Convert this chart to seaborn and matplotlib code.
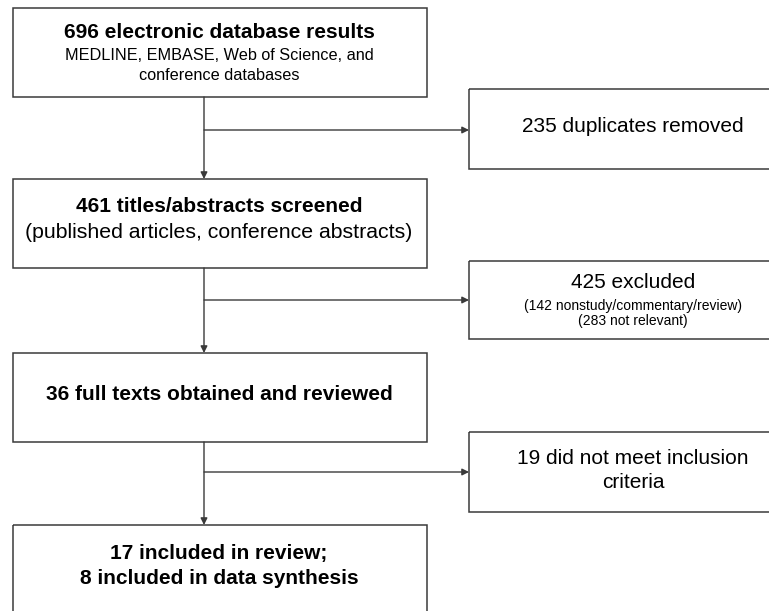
import seaborn as sns
import matplotlib.pyplot as plt
from matplotlib.patches import Rectangle

# flow counts
stage_counts = [696, 461, 36, 17]
stage_labels = ["electronic database results", "titles/abstracts screened",
                "full texts obtained and reviewed", "included in review;"]
stage_notes = ["MEDLINE, EMBASE, Web of Science, and\nconference databases",
               "(published articles, conference abstracts)", "", ""]
synthesis_count = 8
excluded_counts = [235, 425, 19]
excluded_labels = ["duplicates removed", "excluded", "did not meet inclusion\ncriteria"]
reason_counts = [142, 283]
reason_labels = ["nonstudy/commentary/review", "not relevant"]

# layout in pixels (y downwards)
left_x = (13, 427)
left_y = [(8, 97), (179, 268), (353, 442), (525, 625)]
right_x = (469, 797)
right_y = [(89, 169), (261, 339), (432, 512)]
branch_y = [130, 300, 472]
trunk_x = 204
line_col = "#3a3a3a"

sns.set_style("white")
plt.rcParams["font.family"] = ["Liberation Sans", "DejaVu Sans"]
plt.rcParams["text.color"] = "black"

fig = plt.figure(figsize=(7.69, 6.11), dpi=100)
ax = fig.add_axes([0, 0, 1, 1])
ax.set_xlim(0, 769)
ax.set_ylim(611, 0)
ax.axis("off")


def box(x, y):
    ax.add_patch(Rectangle((x[0], y[0]), x[1] - x[0], y[1] - y[0],
                           fill=False, edgecolor=line_col, lw=1.1))


def arrow(x0, y0, x1, y1):
    ax.annotate("", xy=(x1, y1), xytext=(x0, y0),
                arrowprops=dict(arrowstyle="-|>", color=line_col, lw=1.0,
                                mutation_scale=10, shrinkA=0, shrinkB=0))


for y in left_y:
    box(left_x, y)
for y in right_y:
    box(right_x, y)

# trunk arrows and side branches
for i in range(3):
    arrow(trunk_x, left_y[i][1], trunk_x, left_y[i + 1][0])
    arrow(trunk_x, branch_y[i], right_x[0], branch_y[i])

cx = 219
# main boxes
ax.text(cx, 32, f"{stage_counts[0]} {stage_labels[0]}", ha="center", va="center",
        fontsize=15, fontweight="bold")
ax.text(cx, 65.5, stage_notes[0], ha="center", va="center", fontsize=11.7, linespacing=1.45)
ax.text(cx, 207, f"{stage_counts[1]} {stage_labels[1]}", ha="center", va="center",
        fontsize=15, fontweight="bold")
ax.text(cx, 233, stage_notes[1], ha="center", va="center", fontsize=15.3)
ax.text(cx, 395, f"{stage_counts[2]} {stage_labels[2]}", ha="center", va="center",
        fontsize=15, fontweight="bold")
ax.text(cx, 566, f"{stage_counts[3]} {stage_labels[3]}\n{synthesis_count} included in data synthesis",
        ha="center", va="center", fontsize=15, fontweight="bold", linespacing=1.35)

# exclusion boxes
rx = 633
ax.text(rx, 127, f"{excluded_counts[0]} {excluded_labels[0]}", ha="center", va="center", fontsize=15)
ax.text(rx, 283, f"{excluded_counts[1]} {excluded_labels[1]}", ha="center", va="center", fontsize=15)
reasons = "\n".join(f"({n} {lab})" for n, lab in zip(reason_counts, reason_labels))
ax.text(rx, 313.5, reasons, ha="center", va="center", fontsize=10, linespacing=1.15)
ax.text(rx, 470.5, f"{excluded_counts[2]} {excluded_labels[2]}", ha="center", va="center",
        fontsize=15, linespacing=1.4)

fig.savefig("out.png", dpi=100, facecolor="white")
